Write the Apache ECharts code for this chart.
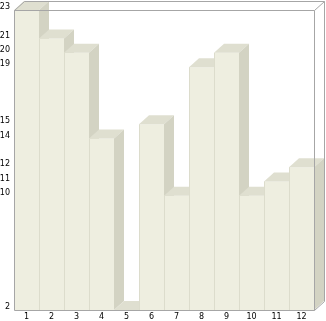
<!DOCTYPE html>
<html>
<head>
<meta charset="utf-8">
<style>html,body{margin:0;padding:0;background:#fff}#c{width:326px;height:321px}</style>
<script src="https://cdn.jsdelivr.net/npm/echarts@6/dist/echarts.min.js"></script>
</head>
<body>
<div id="c"></div>
<script>
const categories = ['1','2','3','4','5','6','7','8','9','10','11','12'];
const values = [23, 21, 20, 14, 2, 15, 10, 19, 20, 10, 11, 12];
const yTicks = [2, 10, 11, 12, 14, 15, 19, 20, 21, 23];
const yMin = 2, yMax = 23;

const DX = 10, DY = -9;
const FRONT = '#eeeee0', TOP = '#dfdfd0', SIDE = '#d3d3c3', EDGE = '#dcdccc', FRAME = '#a6a6a6';

const chart = echarts.init(document.getElementById('c'));
chart.setOption({
  animation: false,
  grid: {left: 14, top: 10, right: 12, bottom: 11, containLabel: false, outerBoundsMode: 'none'},
  xAxis: {
    type: 'category', data: categories, boundaryGap: true,
    axisLine: {show: false}, axisTick: {show: false}, splitLine: {show: false},
    axisLabel: {margin: 3, fontSize: 8, color: '#000', fontFamily: 'DejaVu Sans'}
  },
  yAxis: {
    type: 'value', min: yMin, max: yMax,
    axisLine: {show: false}, axisTick: {show: false}, splitLine: {show: false},
    axisLabel: {customValues: yTicks, margin: 4, fontSize: 8, color: '#000',
      fontFamily: 'DejaVu Sans', verticalAlign: 'bottom', lineHeight: 6}
  },
  series: [
    {
      type: 'custom', z: 2,
      data: values.map((v, i) => [i, v]),
      encode: {x: 0, y: 1},
      renderItem: function (params, api) {
        const i = api.value(0), v = api.value(1);
        const t = api.coord([i, v]);
        const b = api.coord([i, yMin]);
        const w = api.size([1, 0])[0];
        const x0 = t[0] - w / 2, x1 = t[0] + w / 2, yT = t[1], yB = b[1];
        return {
          type: 'group',
          children: [
            {type: 'rect', shape: {x: x0, y: yT, width: w, height: yB - yT}, style: {fill: FRONT}},
            {type: 'polygon', shape: {points: [[x0, yT], [x1, yT], [x1 + DX, yT + DY], [x0 + DX, yT + DY]]}, style: {fill: TOP}},
            {type: 'polygon', shape: {points: [[x1, yT], [x1 + DX, yT + DY], [x1 + DX, yB + DY], [x1, yB]]}, style: {fill: SIDE}},
            {type: 'line', shape: {x1: x0 + 0.5, y1: yT, x2: x0 + 0.5, y2: yB}, style: {stroke: EDGE, lineWidth: 1}}
          ]
        };
      }
    },
    {
      type: 'custom', z: 5, silent: true,
      data: [[0, yMin]],
      encode: {x: 0, y: 1},
      renderItem: function (params, api) {
        const cs = params.coordSys;
        const L = cs.x + 0.5, T = cs.y + 0.5, R = cs.x + cs.width + 0.5, B = cs.y + cs.height + 0.5;
        const st = {stroke: FRAME, lineWidth: 1, fill: null};
        return {
          type: 'group',
          children: [
            {type: 'rect', shape: {x: L, y: T, width: R - L, height: B - T}, style: st},
            {type: 'polyline', shape: {points: [[L, T], [L + DX, T + DY], [R + DX, T + DY], [R + DX, B + DY], [R, B]]}, style: st},
            {type: 'line', shape: {x1: R, y1: T, x2: R + DX, y2: T + DY}, style: st}
          ]
        };
      }
    }
  ]
});
</script>
</body>
</html>
